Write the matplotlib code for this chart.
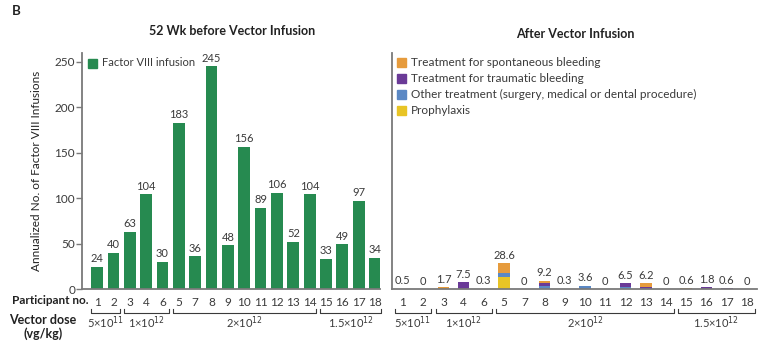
import numpy as np
import matplotlib
matplotlib.use("Agg")
import matplotlib.pyplot as plt
from matplotlib.patches import Rectangle
import matplotlib.transforms as mtransforms

plt.rcParams['font.family'] = ['Lato', 'DejaVu Sans']

# participants in dose-group order
participants = ['1', '2', '3', '4', '6', '5', '7', '8', '9', '10', '11', '12', '13', '14', '15', '16', '17', '18']
before = [24, 40, 63, 104, 30, 183, 36, 245, 48, 156, 89, 106, 52, 104, 33, 49, 97, 34]

after_total = ['0.5', '0', '1.7', '7.5', '0.3', '28.6', '0', '9.2', '0.3', '3.6', '0', '6.5', '6.2', '0', '0.6', '1.8', '0.6', '0']
prophylaxis = [0, 0, 0, 0, 0, 13.0, 0, 0, 0, 0, 0, 0, 0, 0, 0, 0, 0, 0]
other_tx = [0, 0, 0, 0, 0, 4.4, 0, 3.0, 0, 3.6, 0, 2.0, 0, 0, 0, 0, 0, 0]
traumatic = [0, 0, 0, 7.5, 0, 0, 0, 3.2, 0, 0, 0, 4.5, 2.7, 0, 0, 1.8, 0.6, 0]
spontaneous = [0.5, 0, 1.7, 0, 0.3, 11.2, 0, 3.0, 0.3, 0, 0, 0, 3.5, 0, 0.6, 0, 0, 0]

dose_groups = [(0, 1, '5×10$^{11}$'), (2, 4, '1×10$^{12}$'), (5, 13, '2×10$^{12}$'), (14, 17, '1.5×10$^{12}$')]

green = '#268a50'
c_spont = '#e69b3c'
c_traum = '#6a3a97'
c_other = '#5b88c4'
c_proph = '#e8c425'
axis_col = '#7a7a7a'
txt = '#3a3a3a'

fig = plt.figure(figsize=(7.6, 3.47), dpi=100)
ax1 = fig.add_axes([82/760, 1-289/347, 298/760, 236.3/347])
ax2 = fig.add_axes([392/760, 1-289/347, 365/760, 236.3/347])

x = np.arange(len(participants))

# left: before vector infusion
ax1.bar(x, before, width=0.72, color=green, zorder=2)
for xi, v in zip(x, before):
    ax1.text(xi, v + 3, str(v), ha='center', va='bottom', fontsize=8, color=txt)
ax1.set_xlim(-0.92, 17.3)
ax1.set_ylim(0, 260)
ax1.set_yticks([0, 50, 100, 150, 200, 250])
ax1.tick_params(axis='y', length=4, width=1, color=axis_col, labelsize=8.5, labelcolor=txt, pad=1)
ax1.set_ylabel('Annualized No. of Factor VIII Infusions', fontsize=8.5, color='#222222', labelpad=9)

# right: after vector infusion, stacked by reason
bottom = np.zeros(len(x))
for vals, col in [(prophylaxis, c_proph), (other_tx, c_other), (traumatic, c_traum), (spontaneous, c_spont)]:
    ax2.bar(x, vals, bottom=bottom, width=0.58, color=col, zorder=2)
    bottom += np.array(vals)
for xi, top, lab in zip(x, bottom, after_total):
    ax2.text(xi, top + 2.5, lab, ha='center', va='bottom', fontsize=8, color=txt)
ax2.set_xlim(-0.54, 17.5)
ax2.set_ylim(0, 260)
ax2.set_yticks([])

for ax in (ax1, ax2):
    ax.spines['top'].set_visible(False)
    ax.spines['right'].set_visible(False)
    for s in ('left', 'bottom'):
        ax.spines[s].set_color(axis_col)
        ax.spines[s].set_linewidth(1.3)
    ax.set_xticks(x)
    ax.set_xticklabels(participants)
    ax.tick_params(axis='x', length=0, labelsize=8.5, labelcolor=txt, pad=6)
    ax.set_facecolor('none')

    # dose group brackets below the participant numbers
    tr = mtransforms.blended_transform_factory(ax.transData, fig.transFigure)
    yb = 1 - 313/347
    ytick = 1 - 309/347
    for a, b, lab in dose_groups:
        x0, x1 = a - 0.38, b + 0.38
        ax.plot([x0, x0, x1, x1], [ytick, yb, yb, ytick], color=txt, lw=0.8,
                transform=tr, clip_on=False)
        ax.text((a + b) / 2, 1 - 323/347, lab, ha='center', va='center',
                fontsize=8, color=txt, transform=tr)

# legends drawn as small squares with text
def legend_item(xa, ya, color, label, size=8.5):
    fig.patches.append(Rectangle((xa/760, 1 - (ya + 4.5)/347), 9/760, 9/347,
                                 color=color, transform=fig.transFigure))
    fig.text((xa + 14)/760, 1 - ya/347, label, fontsize=size, color=txt, va='center')

legend_item(88, 63, green, 'Factor VIII infusion', size=8)
legend_item(397, 62, c_spont, 'Treatment for spontaneous bleeding')
legend_item(397, 78, c_traum, 'Treatment for traumatic bleeding')
legend_item(397, 94, c_other, 'Other treatment (surgery, medical or dental procedure)')
legend_item(397, 110, c_proph, 'Prophylaxis')

fig.text(232/760, 1 - 31/347, '52 Wk before Vector Infusion', ha='center', va='center',
         fontsize=9, fontweight='bold', color='#222222')
fig.text(575/760, 1 - 34/347, 'After Vector Infusion', ha='center', va='center',
         fontsize=9, fontweight='bold', color='#222222')
fig.text(12/760, 1 - 11/347, 'B', ha='left', va='center', fontsize=9.5,
         fontweight='bold', color='#222222')
fig.text(12/760, 1 - 301/347, 'Participant no.', ha='left', va='center',
         fontsize=8.5, fontweight='bold', color='#222222')
fig.text(43/760, 1 - 327/347, 'Vector dose\n(vg/kg)', ha='center', va='center',
         fontsize=9, fontweight='bold', color='#222222', linespacing=1.05)

fig.savefig('out.png', dpi=100, facecolor='white')
